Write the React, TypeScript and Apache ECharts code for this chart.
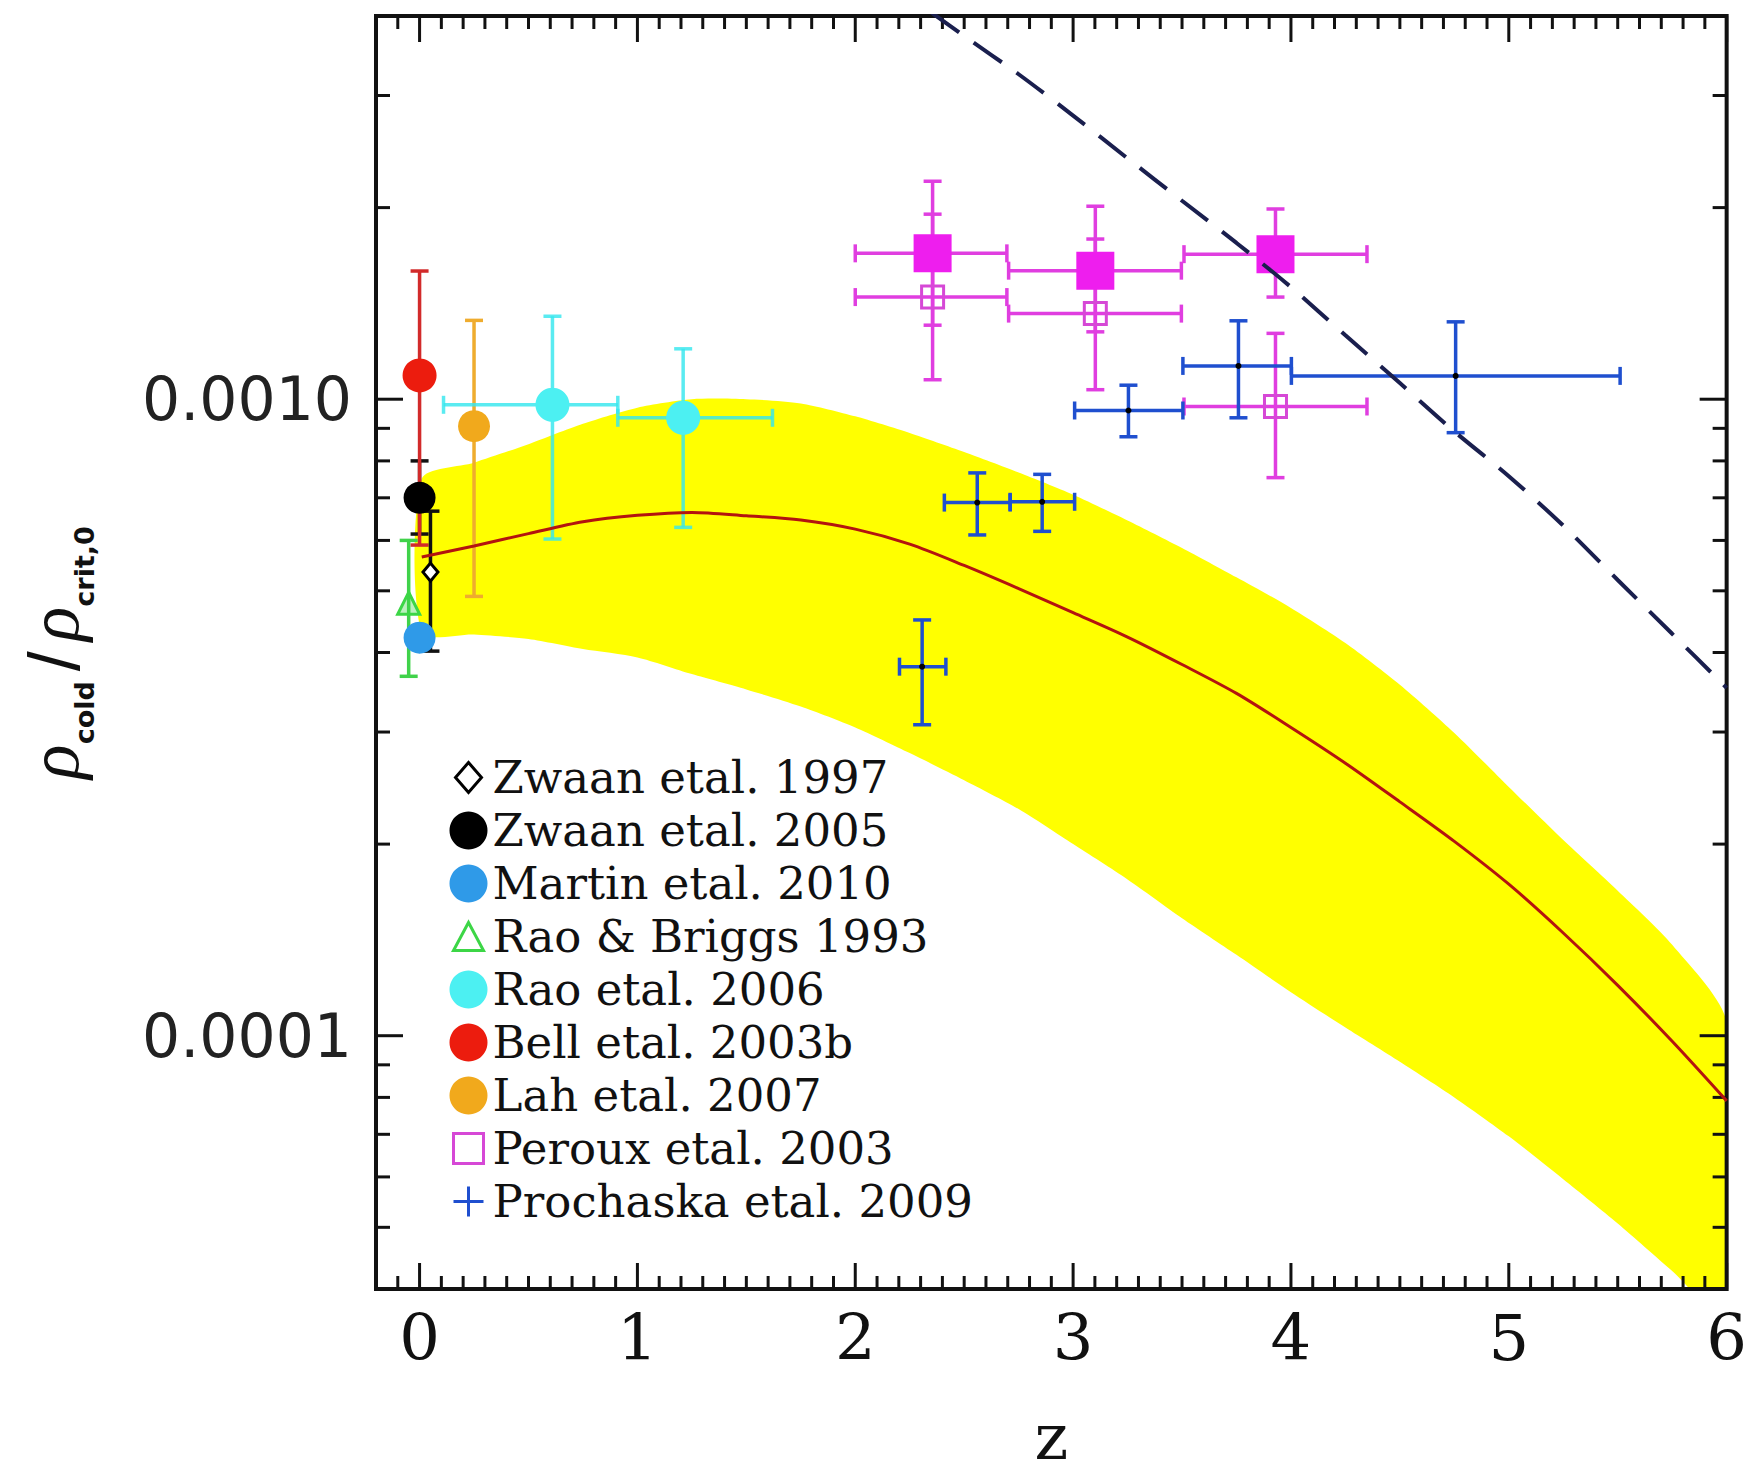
import React, { useEffect, useRef } from 'react';
import * as echarts from 'echarts';

// Axis extents
const Z_MIN = -0.2;
const Z_MAX = 6;
const RHO_MIN = 4e-5;
const RHO_MAX = 4e-3;

// Tick values
const zMajorTicks = [0, 1, 2, 3, 4, 5, 6];
const rhoMajorTicks = [1e-4, 1e-3];
const rhoMinorTicks = [5e-5, 6e-5, 7e-5, 8e-5, 9e-5, 2e-4, 3e-4, 4e-4, 5e-4, 6e-4, 7e-4, 8e-4, 9e-4, 2e-3, 3e-3];

// Model prediction: median and spread of rho_cold / rho_crit,0
const modelZ = [0.01, 0.25, 0.5, 0.75, 1.0, 1.25, 1.5, 1.75, 2.0, 2.25, 2.5, 2.75, 3.0, 3.25, 3.5, 3.75, 4.0, 4.25, 4.5, 4.75, 5.0, 5.25, 5.5, 5.75, 6.0];
const modelMedian = [5.65e-4, 5.88e-4, 6.15e-4, 6.42e-4, 6.57e-4, 6.64e-4, 6.56e-4, 6.46e-4, 6.25e-4, 5.92e-4, 5.48e-4, 5.04e-4, 4.62e-4, 4.23e-4, 3.83e-4, 3.45e-4, 3.05e-4, 2.68e-4, 2.33e-4, 2.02e-4, 1.73e-4, 1.45e-4, 1.2e-4, 9.8e-5, 7.9e-5];
const modelUpper = [7.5e-4, 7.95e-4, 8.5e-4, 9.15e-4, 9.7e-4, 1.0e-3, 1.0e-3, 9.85e-4, 9.4e-4, 8.85e-4, 8.26e-4, 7.67e-4, 7.08e-4, 6.45e-4, 5.84e-4, 5.25e-4, 4.7e-4, 4.14e-4, 3.56e-4, 2.99e-4, 2.46e-4, 2.03e-4, 1.69e-4, 1.39e-4, 1.05e-4];
const modelLower = [4.3e-4, 4.27e-4, 4.2e-4, 4.05e-4, 3.93e-4, 3.7e-4, 3.5e-4, 3.29e-4, 3.05e-4, 2.78e-4, 2.52e-4, 2.27e-4, 2.0e-4, 1.76e-4, 1.53e-4, 1.34e-4, 1.17e-4, 1.03e-4, 9.1e-5, 8.0e-5, 6.95e-5, 5.95e-5, 5.07e-5, 4.27e-5, 3.6e-5];

// Dashed comparison curve
const dashedZ = [2.35, 2.5, 2.75, 3.0, 3.25, 3.5, 3.75, 4.0, 4.25, 4.5, 4.75, 5.0, 5.25, 5.5, 5.75, 6.0];
const dashedRho = [4.05e-3, 3.72e-3, 3.24e-3, 2.79e-3, 2.39e-3, 2.05e-3, 1.76e-3, 1.5e-3, 1.26e-3, 1.06e-3, 8.9e-4, 7.57e-4, 6.33e-4, 5.2e-4, 4.28e-4, 3.52e-4];

// Observations
const martinZ = [0.0];
const martinRho = [4.22e-4];

const raoBriggsZ = [-0.05];
const raoBriggsRho = [4.78e-4];
const raoBriggsLo = [3.67e-4];
const raoBriggsHi = [6.0e-4];

const zwaan05Z = [0.0];
const zwaan05Rho = [7.0e-4];
const zwaan05Lo = [6.14e-4];
const zwaan05Hi = [8.0e-4];

const bellZ = [0.0];
const bellRho = [1.09e-3];
const bellLo = [5.9e-4];
const bellHi = [1.59e-3];

const zwaan97Z = [0.05];
const zwaan97Rho = [5.35e-4];
const zwaan97Lo = [4.02e-4];
const zwaan97Hi = [6.67e-4];

const lahZ = [0.25];
const lahRho = [9.07e-4];
const lahLo = [4.9e-4];
const lahHi = [1.33e-3];

const rao06Z = [0.61, 1.21];
const rao06ZLo = [0.11, 0.91];
const rao06ZHi = [0.91, 1.62];
const rao06Rho = [9.8e-4, 9.35e-4];
const rao06Lo = [6.03e-4, 6.29e-4];
const rao06Hi = [1.35e-3, 1.2e-3];

const perouxZ = [2.355, 3.102, 3.929];
const perouxZLo = [2.0, 2.704, 3.509];
const perouxZHi = [2.696, 3.497, 4.349];
const perouxRho = [1.447e-3, 1.363e-3, 9.74e-4];
const perouxLo = [1.073e-3, 1.035e-3, 7.53e-4];
const perouxHi = [1.953e-3, 1.785e-3, 1.269e-3];
const perouxCorrRho = [1.695e-3, 1.592e-3, 1.69e-3];
const perouxCorrLo = [1.307e-3, 1.276e-3, 1.447e-3];
const perouxCorrHi = [2.2e-3, 2.01e-3, 1.99e-3];

const prochaskaZ = [2.307, 2.56, 2.858, 3.254, 3.759, 4.756];
const prochaskaZLo = [2.203, 2.409, 2.711, 3.007, 3.504, 4.002];
const prochaskaZHi = [2.416, 2.711, 3.007, 3.504, 4.002, 5.511];
const prochaskaRho = [3.8e-4, 6.88e-4, 6.9e-4, 9.6e-4, 1.128e-3, 1.088e-3];
const prochaskaLo = [3.08e-4, 6.12e-4, 6.2e-4, 8.73e-4, 9.35e-4, 8.86e-4];
const prochaskaHi = [4.5e-4, 7.66e-4, 7.62e-4, 1.052e-3, 1.328e-3, 1.323e-3];

// Legend entries in display order
const legendNames = [
  'Zwaan etal. 1997',
  'Zwaan etal. 2005',
  'Martin etal. 2010',
  'Rao & Briggs 1993',
  'Rao etal. 2006',
  'Bell etal. 2003b',
  'Lah etal. 2007',
  'Peroux etal. 2003',
  'Prochaska etal. 2009',
];

const CAP = 9;
const BAR_WIDTH = 3.5;

function errorBars(
  id: string,
  z: number[],
  rho: number[],
  lo: number[],
  hi: number[],
  color: string,
  zLo?: number[],
  zHi?: number[],
  opacity = 1
) {
  return {
    type: 'custom',
    id,
    silent: true,
    data: z.map((v, i) => [v, rho[i], zLo ? zLo[i] : v, zHi ? zHi[i] : v, lo[i], hi[i]]),
    encode: { x: 0, y: 1 },
    renderItem: (_params: any, api: any) => {
      const c = api.coord([api.value(0), api.value(1)]);
      const yTop = api.coord([api.value(0), api.value(5)])[1];
      const yBot = api.coord([api.value(0), api.value(4)])[1];
      const xL = api.coord([api.value(2), api.value(1)])[0];
      const xR = api.coord([api.value(3), api.value(1)])[0];
      const style = { stroke: color, lineWidth: BAR_WIDTH, opacity };
      const seg = (x1: number, y1: number, x2: number, y2: number) => ({
        type: 'line',
        shape: { x1, y1, x2, y2 },
        style,
      });
      const children: any[] = [
        seg(c[0], yTop, c[0], yBot),
        seg(c[0] - CAP, yTop, c[0] + CAP, yTop),
        seg(c[0] - CAP, yBot, c[0] + CAP, yBot),
      ];
      if (xR - xL > 1) {
        children.push(
          seg(xL, c[1], xR, c[1]),
          seg(xL, c[1] - CAP, xL, c[1] + CAP),
          seg(xR, c[1] - CAP, xR, c[1] + CAP)
        );
      }
      return { type: 'group', children };
    },
  };
}

function markers(name: string, z: number[], rho: number[], symbol: string, size: any, itemStyle: any) {
  return {
    type: 'scatter',
    name,
    silent: true,
    symbol,
    symbolSize: size,
    itemStyle: { opacity: 1, ...itemStyle },
    data: z.map((v, i) => [v, rho[i]]),
  };
}

function buildOption() {
  const zMinorTicks: number[] = [];
  for (let i = -1; i < 60; i++) if (i % 10 !== 0) zMinorTicks.push(i / 10);
  const zTicks = [
    ...zMajorTicks.map((v) => [v, RHO_MIN, 1]),
    ...zMinorTicks.map((v) => [v, RHO_MIN, 0]),
  ];
  const rhoTicks = [
    ...rhoMajorTicks.map((v) => [Z_MIN, v, 1]),
    ...rhoMinorTicks.map((v) => [Z_MIN, v, 0]),
  ];
  const tickStyle = { stroke: '#111', lineWidth: 3 };

  const legendIcons: Record<string, any> = {
    'Zwaan etal. 1997': {
      icon: 'path://M0,0M38,38M19,4L32,19L19,34L6,19Z',
      itemStyle: { color: '#fff', borderColor: '#000', borderWidth: 3, opacity: 1 },
    },
    'Zwaan etal. 2005': { icon: 'circle', itemStyle: { color: '#000', borderWidth: 0, opacity: 1 } },
    'Martin etal. 2010': { icon: 'circle', itemStyle: { color: '#2f9ae8', borderWidth: 0, opacity: 1 } },
    'Rao & Briggs 1993': {
      icon: 'path://M0,0M38,38M19,5L34,33L4,33Z',
      itemStyle: { color: '#fff', borderColor: '#3cd646', borderWidth: 3, opacity: 1 },
    },
    'Rao etal. 2006': { icon: 'circle', itemStyle: { color: '#4cf0f2', borderWidth: 0, opacity: 1 } },
    'Bell etal. 2003b': { icon: 'circle', itemStyle: { color: '#ec1c0e', borderWidth: 0, opacity: 1 } },
    'Lah etal. 2007': { icon: 'circle', itemStyle: { color: '#f1a91c', borderWidth: 0, opacity: 1 } },
    'Peroux etal. 2003': {
      icon: 'path://M0,0M38,38M4,4H34V34H4Z',
      itemStyle: { color: '#fff', borderColor: '#d648d6', borderWidth: 3, opacity: 1 },
    },
    'Prochaska etal. 2009': {
      icon: 'path://M0,0M38,38M19,4V34M4,19H34',
      itemStyle: { color: 'none', borderColor: '#1f4fcf', borderWidth: 3, opacity: 1 },
    },
  };

  return {
    animation: false,
    backgroundColor: '#ffffff',
    textStyle: { fontFamily: 'DejaVu Serif' },
    grid: { left: 376, right: 19, top: 16, bottom: 178, show: false },
    legend: {
      orient: 'vertical',
      left: 447,
      top: 751,
      padding: 0,
      itemGap: 0,
      itemWidth: 38,
      itemHeight: 38,
      selectedMode: false,
      textStyle: { fontFamily: 'DejaVu Serif', fontSize: 45, color: '#111', lineHeight: 53 },
      data: legendNames.map((n) => ({ name: n, ...legendIcons[n] })),
    },
    xAxis: {
      type: 'value',
      min: Z_MIN,
      max: Z_MAX,
      axisLine: { show: false },
      axisTick: { show: false },
      splitLine: { show: false },
      axisLabel: {
        customValues: zMajorTicks,
        formatter: (v: number) => String(v),
        fontFamily: 'DejaVu Serif',
        fontSize: 64,
        color: '#111',
        margin: 17,
      },
      name: 'z',
      nameLocation: 'middle',
      nameGap: 116,
      nameTextStyle: { fontFamily: 'DejaVu Serif', fontSize: 64, color: '#111' },
    },
    yAxis: {
      type: 'log',
      logBase: 10,
      min: RHO_MIN,
      max: RHO_MAX,
      axisLine: { show: false },
      axisTick: { show: false },
      splitLine: { show: false },
      axisLabel: {
        showMinLabel: false,
        showMaxLabel: false,
        formatter: (v: number) => v.toFixed(4),
        fontFamily: 'DejaVu Sans',
        fontSize: 60,
        color: '#222',
        margin: 24,
      },
      name: '{r|ρ}{s|cold}{sl|/}{r|ρ}{s|crit,0}',
      nameLocation: 'middle',
      nameRotate: 90,
      nameGap: 278,
      nameTextStyle: {
        color: '#111',
        rich: {
          r: { fontFamily: 'Liberation Serif', fontStyle: 'italic', fontSize: 72, lineHeight: 80, verticalAlign: 'top', color: '#111' },
          sl: { fontFamily: 'Liberation Sans', fontSize: 72, lineHeight: 80, verticalAlign: 'top', padding: [0, 10, 0, 10], color: '#111' },
          s: { fontFamily: 'DejaVu Sans', fontWeight: 'bold', fontSize: 27, verticalAlign: 'bottom', color: '#111' },
        },
      },
    },
    series: [
      // Model spread
      {
        type: 'custom',
        id: 'modelBand',
        silent: true,
        clip: true,
        data: [[modelZ[0], modelMedian[0]]],
        renderItem: (_p: any, api: any) => {
          const pts: number[][] = [];
          modelZ.forEach((z, i) => pts.push(api.coord([z, modelUpper[i]])));
          for (let i = modelZ.length - 1; i >= 0; i--) pts.push(api.coord([modelZ[i], modelLower[i]]));
          return { type: 'polygon', shape: { points: pts, smooth: 0.25 }, style: { fill: '#ffff00', stroke: 'none' } };
        },
      },
      // Model median
      {
        type: 'line',
        id: 'modelMedian',
        silent: true,
        showSymbol: false,
        smooth: 0.3,
        lineStyle: { color: '#b3140f', width: 3 },
        data: modelZ.map((z, i) => [z, modelMedian[i]]),
      },
      // Dashed comparison curve
      {
        type: 'line',
        id: 'dashedCurve',
        silent: true,
        showSymbol: false,
        smooth: 0.3,
        lineStyle: { color: '#1a1f4e', width: 4, type: [34, 18] },
        data: dashedZ.map((z, i) => [z, dashedRho[i]]),
      },
      markers('Martin etal. 2010', martinZ, martinRho, 'circle', 32, { color: '#2f9ae8' }),
      errorBars('raoBriggsBars', raoBriggsZ, raoBriggsRho, raoBriggsLo, raoBriggsHi, '#40d24a'),
      markers('Rao & Briggs 1993', raoBriggsZ, raoBriggsRho, 'triangle', 22, {
        color: 'rgba(60,214,70,0.35)',
        borderColor: '#3cd646',
        borderWidth: 3,
      }),
      errorBars('zwaan05Bars', zwaan05Z, zwaan05Rho, zwaan05Lo, zwaan05Hi, '#111'),
      markers('Zwaan etal. 2005', zwaan05Z, zwaan05Rho, 'circle', 32, { color: '#000' }),
      errorBars('bellBars', bellZ, bellRho, bellLo, bellHi, '#d22a2a'),
      markers('Bell etal. 2003b', bellZ, bellRho, 'circle', 34, { color: '#ec1c0e' }),
      errorBars('zwaan97Bars', zwaan97Z, zwaan97Rho, zwaan97Lo, zwaan97Hi, '#111'),
      markers('Zwaan etal. 1997', zwaan97Z, zwaan97Rho, 'diamond', [15, 18], {
        color: '#fff',
        borderColor: '#000',
        borderWidth: 3,
      }),
      errorBars('lahBars', lahZ, lahRho, lahLo, lahHi, '#efac2e'),
      markers('Lah etal. 2007', lahZ, lahRho, 'circle', 32, { color: '#f1a91c' }),
      errorBars('rao06Bars', rao06Z, rao06Rho, rao06Lo, rao06Hi, '#36e6ee', rao06ZLo, rao06ZHi, 0.82),
      markers('Rao etal. 2006', rao06Z, rao06Rho, 'circle', 34, { color: '#4cf0f2' }),
      errorBars('perouxCorrBars', perouxZ, perouxCorrRho, perouxCorrLo, perouxCorrHi, '#e03ee0', perouxZLo, perouxZHi),
      errorBars('perouxBars', perouxZ, perouxRho, perouxLo, perouxHi, '#e03ee0', perouxZLo, perouxZHi),
      markers('Peroux etal. 2003 (corrected)', perouxZ, perouxCorrRho, 'rect', 38, { color: '#ee1eee' }),
      markers('Peroux etal. 2003', perouxZ, perouxRho, 'rect', 22, {
        color: 'rgba(0,0,0,0)',
        borderColor: '#d648d6',
        borderWidth: 3,
      }),
      errorBars('prochaskaBars', prochaskaZ, prochaskaRho, prochaskaLo, prochaskaHi, '#1f4fcf', prochaskaZLo, prochaskaZHi),
      markers('Prochaska etal. 2009', prochaskaZ, prochaskaRho, 'circle', 6, { color: '#000' }),
      // z ticks on bottom and top
      {
        type: 'custom',
        id: 'zTicks',
        silent: true,
        data: zTicks,
        encode: { x: 0, y: 1 },
        renderItem: (_p: any, api: any) => {
          const v = api.value(0);
          const len = api.value(2) ? 26 : 13;
          const b = api.coord([v, RHO_MIN]);
          const t = api.coord([v, RHO_MAX]);
          return {
            type: 'group',
            children: [
              { type: 'line', shape: { x1: b[0], y1: b[1], x2: b[0], y2: b[1] - len }, style: tickStyle },
              { type: 'line', shape: { x1: t[0], y1: t[1], x2: t[0], y2: t[1] + len }, style: tickStyle },
            ],
          };
        },
      },
      // rho ticks on left and right
      {
        type: 'custom',
        id: 'rhoTicks',
        silent: true,
        data: rhoTicks,
        encode: { x: 0, y: 1 },
        renderItem: (_p: any, api: any) => {
          const v = api.value(1);
          const len = api.value(2) ? 27 : 14;
          const l = api.coord([Z_MIN, v]);
          const r = api.coord([Z_MAX, v]);
          return {
            type: 'group',
            children: [
              { type: 'line', shape: { x1: l[0], y1: l[1], x2: l[0] + len, y2: l[1] }, style: tickStyle },
              { type: 'line', shape: { x1: r[0], y1: r[1], x2: r[0] - len, y2: r[1] }, style: tickStyle },
            ],
          };
        },
      },
      // Plot frame
      {
        type: 'custom',
        id: 'frame',
        silent: true,
        data: [[Z_MIN, RHO_MIN]],
        encode: { x: 0, y: 1 },
        renderItem: (_p: any, api: any) => {
          const tl = api.coord([Z_MIN, RHO_MAX]);
          const br = api.coord([Z_MAX, RHO_MIN]);
          return {
            type: 'rect',
            shape: { x: tl[0], y: tl[1], width: br[0] - tl[0], height: br[1] - tl[1] },
            style: { fill: 'none', stroke: '#111', lineWidth: 4 },
          };
        },
      },
    ],
  };
}

export default function App() {
  const ref = useRef<HTMLDivElement>(null);
  useEffect(() => {
    document.body.style.margin = '0';
    const chart = echarts.init(ref.current as HTMLDivElement, null, { renderer: 'svg' });
    chart.setOption(buildOption() as any);
    return () => chart.dispose();
  }, []);
  return <div ref={ref} style={{ width: 1750, height: 1474 }} />;
}
